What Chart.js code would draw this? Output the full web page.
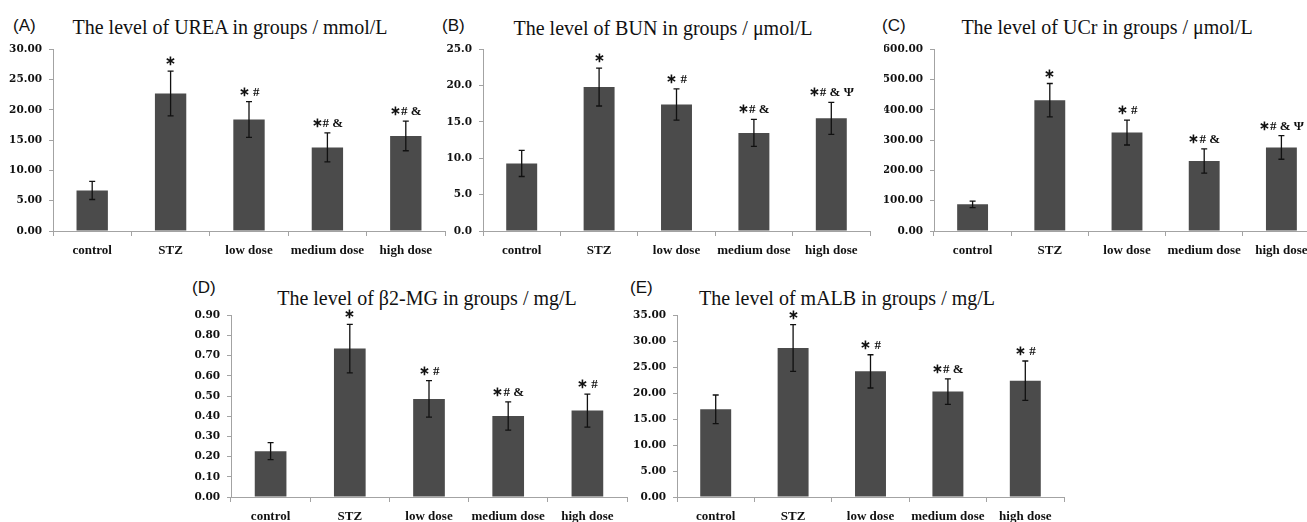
<!DOCTYPE html>
<html>
<head>
<meta charset="utf-8">
<script src="https://cdn.jsdelivr.net/npm/chart.js@4.4.1/dist/chart.umd.min.js"></script>
<style>
html, body { margin: 0; padding: 0; background: #fff; width: 1307px; height: 522px; overflow: hidden; }
body { position: relative; }
canvas { position: absolute; }
.title { position: absolute; font-family: "Liberation Serif", serif; font-size: 20px; line-height: 20px; white-space: nowrap; color: #111; transform: translateX(-50%); }
.tag { position: absolute; font-family: "Liberation Sans", Arial, sans-serif; font-size: 17px; line-height: 17px; color: #111; }
</style>
</head>
<body>
<div class="tag" style="left:13px;top:17px">(A)</div>
<div class="tag" style="left:442px;top:17px">(B)</div>
<div class="tag" style="left:882px;top:17px">(C)</div>
<div class="tag" style="left:192px;top:279px">(D)</div>
<div class="tag" style="left:630px;top:279px">(E)</div>

<div class="title" style="left:230px;top:17px">The level of UREA in groups / mmol/L</div>
<div class="title" style="left:663px;top:18px">The level of BUN in groups / μmol/L</div>
<div class="title" style="left:1107px;top:17px">The level of UCr in groups / μmol/L</div>
<div class="title" style="left:427px;top:288px">The level of β2-MG in groups / mg/L</div>
<div class="title" style="left:847px;top:288px">The level of mALB in groups / mg/L</div>

<canvas id="chartA"></canvas>
<canvas id="chartB"></canvas>
<canvas id="chartC"></canvas>
<canvas id="chartD"></canvas>
<canvas id="chartE"></canvas>

<script>
// groups on every x axis
const groups = ['control', 'STZ', 'low dose', 'medium dose', 'high dose'];

// (A) UREA, mmol/L
const ureaMean = [6.7, 22.7, 18.4, 13.8, 15.7];
const ureaSd = [1.5, 3.7, 2.95, 2.4, 2.45];
const ureaMarks = ['', '∗', '∗ #', '∗# &', '∗# &'];

// (B) BUN, umol/L
const bunMean = [9.3, 19.8, 17.4, 13.5, 15.5];
const bunSd = [1.8, 2.6, 2.15, 1.85, 2.2];
const bunMarks = ['', '∗', '∗ #', '∗# &', '∗# & Ψ'];

// (C) UCr, umol/L
const ucrMean = [88, 432, 325, 231, 276];
const ucrSd = [10.5, 55, 41, 40, 39];
const ucrMarks = ['', '∗', '∗ #', '∗# &', '∗# & Ψ'];

// (D) beta2-MG, mg/L
const b2mgMean = [0.227, 0.735, 0.486, 0.401, 0.428];
const b2mgSd = [0.042, 0.12, 0.09, 0.07, 0.082];
const b2mgMarks = ['', '∗', '∗ #', '∗# &', '∗ #'];

// (E) mALB, mg/L
const malbMean = [16.9, 28.7, 24.2, 20.3, 22.4];
const malbSd = [2.75, 4.5, 3.2, 2.45, 3.8];
const malbMarks = ['', '∗', '∗ #', '∗# &', '∗ #'];

// y axis ranges: max, step, decimals
const yMaxes = [30, 25, 600, 0.9, 35];
const ySteps = [5, 5, 100, 0.1, 5];
const yDecimals = [2, 1, 2, 2, 2];

const BAR = '#4b4b4b';
const AXIS = '#a3a3a3';
const Y_W = 50, PAD_TOP = 10, X_H = 30, PLOT_H = 185;

// error bars + significance marks drawn from the y scale
function makeErrorBars(sd, marks) {
    return {
        id: 'errorBars',
        afterDatasetsDraw(chart) {
            const ctx = chart.ctx;
            const y = chart.scales.y;
            const means = chart.data.datasets[0].data;
            const meta = chart.getDatasetMeta(0);
            ctx.save();
            ctx.strokeStyle = '#111';
            ctx.fillStyle = '#111';
            ctx.lineWidth = 1.3;
            ctx.font = 'bold 13px "Liberation Serif", serif';
            ctx.textAlign = 'center';
            ctx.textBaseline = 'alphabetic';
            meta.data.forEach((bar, i) => {
                const hi = y.getPixelForValue(means[i] + sd[i]);
                const lo = y.getPixelForValue(means[i] - sd[i]);
                ctx.beginPath();
                ctx.moveTo(bar.x, hi); ctx.lineTo(bar.x, lo);
                ctx.moveTo(bar.x - 3, hi); ctx.lineTo(bar.x + 3, hi);
                ctx.moveTo(bar.x - 3, lo); ctx.lineTo(bar.x + 3, lo);
                ctx.stroke();
                if (marks[i]) ctx.fillText(marks[i], bar.x, hi - 6);
            });
            ctx.restore();
        }
    };
}

function drawPanel(id, idx, mean, sd, marks, axisX, axisEnd, plotTop) {
    const canvas = document.getElementById(id);
    canvas.width = Y_W + (axisEnd - axisX) + 2;
    canvas.height = PAD_TOP + PLOT_H + X_H;
    canvas.style.left = (axisX - Y_W) + 'px';
    canvas.style.top = (plotTop - PAD_TOP) + 'px';

    new Chart(canvas.getContext('2d'), {
        type: 'bar',
        data: {
            labels: groups,
            datasets: [{
                data: mean,
                backgroundColor: BAR,
                borderWidth: 0,
                barPercentage: 0.4,
                categoryPercentage: 1
            }]
        },
        options: {
            responsive: false,
            animation: false,
            layout: { padding: { top: PAD_TOP, right: 2, left: 0, bottom: 0 } },
            plugins: {
                legend: { display: false },
                tooltip: { enabled: false }
            },
            scales: {
                x: {
                    afterFit(scale) { scale.height = X_H; },
                    border: { display: true, color: AXIS, width: 1 },
                    grid: { drawOnChartArea: false, drawTicks: true, tickLength: 5, color: AXIS },
                    ticks: {
                        padding: 7,
                        color: '#111',
                        maxRotation: 0,
                        autoSkip: false,
                        font: { family: 'Liberation Serif', size: 13, weight: 'bold' }
                    }
                },
                y: {
                    min: 0,
                    max: yMaxes[idx],
                    afterFit(scale) { scale.width = Y_W; },
                    border: { display: true, color: AXIS, width: 1 },
                    grid: { drawOnChartArea: false, drawTicks: true, tickLength: 4, color: AXIS },
                    ticks: {
                        stepSize: ySteps[idx],
                        padding: 7,
                        color: '#111',
                        font: { family: 'DejaVu Serif', size: 10.5, weight: 'bold' },
                        callback: v => Number(v).toFixed(yDecimals[idx])
                    }
                }
            }
        },
        plugins: [makeErrorBars(sd, marks)]
    });
}

drawPanel('chartA', 0, ureaMean, ureaSd, ureaMarks, 53, 445, 46);
drawPanel('chartB', 1, bunMean, bunSd, bunMarks, 483, 870, 46);
drawPanel('chartC', 2, ucrMean, ucrSd, ucrMarks, 934, 1320, 46);
drawPanel('chartD', 3, b2mgMean, b2mgSd, b2mgMarks, 231, 627, 312);
drawPanel('chartE', 4, malbMean, malbSd, malbMarks, 677, 1064, 312);
</script>
</body>
</html>
